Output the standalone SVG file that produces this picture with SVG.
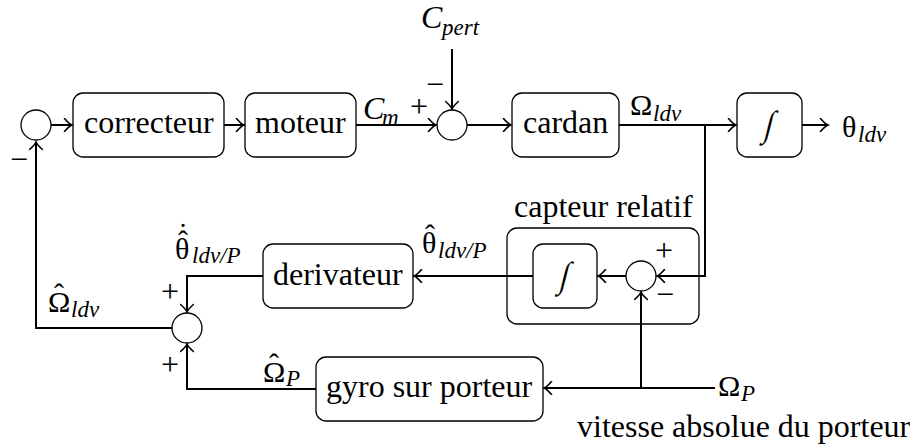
<svg xmlns="http://www.w3.org/2000/svg" width="910" height="447" viewBox="0 0 910 447">
<defs>
<marker id="arr" markerUnits="userSpaceOnUse" markerWidth="14" markerHeight="14" viewBox="-10 -7 12 14" refX="0" refY="0" orient="auto">
<path d="M -7.5 -6.5 Q -3 -1.2 0 0 Q -3 1.2 -7.5 6.5" fill="none" stroke="#000" stroke-width="1.6" stroke-linecap="round"/>
</marker>
</defs>
<style>
.nodebox{fill:#fff;stroke:#000;stroke-width:1.3}
.sumcircle{fill:#fff;stroke:#000;stroke-width:1.3}
.txt{font-family:"Liberation Serif",serif;font-size:32px;fill:#000}
.greek{font-family:"Liberation Serif",serif;font-size:30px;fill:#000}
.ital{font-family:"Liberation Serif",serif;font-style:italic;fill:#000}
.subs{font-family:"Liberation Serif",serif;font-style:italic;font-size:23px;fill:#000}
.integ{font-family:"Liberation Serif",serif;font-size:36px;fill:#000}
.wire{fill:none;stroke:#000;stroke-width:2}
.arrowed{marker-end:url(#arr)}
</style>
<rect width="910" height="447" fill="#fff"/>
<g font-family="Liberation Serif, serif">
<g id="sum1"><circle class="sumcircle" cx="36" cy="125" r="15"/></g>
<g id="correcteur"><rect class="nodebox" x="73" y="93" width="151" height="64" rx="10"/><text class="txt" x="84" y="133">correcteur</text></g>
<g id="moteur"><rect class="nodebox" x="245" y="93" width="111" height="64" rx="10"/><text class="txt" x="255" y="133">moteur</text></g>
<g id="sum2"><circle class="sumcircle" cx="452" cy="125" r="15"/></g>
<g id="cardan"><rect class="nodebox" x="512" y="93" width="107" height="64" rx="10"/><text class="txt" x="523" y="133">cardan</text></g>
<g id="integrateur"><rect class="nodebox" x="737" y="93" width="65" height="64" rx="10"/><g transform="translate(769.5,136) skewX(-14) scale(0.8,1)"><text class="integ" x="-8" y="0">∫</text></g></g>
<g id="capteur">
<rect class="nodebox" x="507" y="228" width="192" height="96" rx="10"/>
<text class="txt" x="514" y="217">capteur relatif</text>
<g id="integ2"><rect class="nodebox" x="533" y="244" width="64" height="64" rx="10"/><g transform="translate(565,287) skewX(-14) scale(0.8,1)"><text class="integ" x="-8" y="0">∫</text></g></g>
<g id="sum3"><circle class="sumcircle" cx="641" cy="276" r="15"/></g>
</g>
<g id="derivateur"><rect class="nodebox" x="263" y="244" width="150" height="64" rx="10"/><text class="txt" x="273" y="285">derivateur</text></g>
<g id="sum4"><circle class="sumcircle" cx="187" cy="328" r="15"/></g>
<g id="gyro"><rect class="nodebox" x="316" y="357" width="227" height="64" rx="10"/><text class="txt" x="326" y="397">gyro sur porteur</text></g>
<g id="labels">
<text class="ital" x="421" y="28" font-size="32">C</text><text class="subs" x="442" y="35">pert</text>
<text class="txt" x="426" y="95">−</text>
<text class="ital" x="363" y="119" font-size="32">C</text><text class="subs" x="382" y="125">m</text>
<text class="txt" x="410" y="117">+</text>
<text class="txt" x="10" y="170">−</text>
<text class="greek" x="630" y="115">Ω</text><text class="subs" x="653" y="121">ldv</text>
<text class="greek" x="842" y="137">θ</text><text class="subs" x="858" y="142">ldv</text>
<text class="txt" x="655" y="261">+</text>
<text class="txt" x="656" y="305">−</text>
<text class="greek" x="422" y="253">θ</text><text class="greek" x="425" y="245">ˆ</text><text class="subs" x="438" y="258">ldv/P</text>
<text class="greek" x="175" y="259">θ</text><text class="greek" x="178" y="251">ˆ</text><text class="greek" x="178" y="244">˙</text><text class="subs" x="192" y="263">ldv/P</text>
<text class="txt" x="161" y="302">+</text>
<text class="txt" x="161" y="375">+</text>
<text class="greek" x="48" y="312">Ω</text><text class="greek" x="54" y="304">ˆ</text><text class="subs" x="71" y="317">ldv</text>
<text class="greek" x="263" y="382">Ω</text><text class="greek" x="269" y="374">ˆ</text><text class="subs" x="286" y="386">P</text>
<text class="greek" x="718" y="396">Ω</text><text class="subs" x="741" y="401">P</text>
<text class="txt" x="577" y="437">vitesse absolue du porteur</text>
</g>
</g>
<g id="connectors">
<line class="wire arrowed" x1="51" y1="125" x2="72" y2="125"/>
<line class="wire arrowed" x1="224" y1="125" x2="244" y2="125"/>
<line class="wire arrowed" x1="356" y1="125" x2="436" y2="125"/>
<line class="wire arrowed" x1="452" y1="49" x2="452" y2="109"/>
<line class="wire arrowed" x1="467" y1="125" x2="511" y2="125"/>
<line class="wire arrowed" x1="619" y1="125" x2="736" y2="125"/>
<line class="wire arrowed" x1="802" y1="125" x2="828" y2="125"/>
<polyline class="wire arrowed" points="705,125 705,276 657,276"/>
<line class="wire arrowed" x1="626" y1="276" x2="598" y2="276"/>
<line class="wire arrowed" x1="533" y1="276" x2="414" y2="276"/>
<polyline class="wire arrowed" points="263,276 187,276 187,312"/>
<line class="wire arrowed" x1="715" y1="388" x2="544" y2="388"/>
<line class="wire arrowed" x1="641" y1="388" x2="641" y2="292"/>
<polyline class="wire arrowed" points="316,389 187,389 187,344"/>
<polyline class="wire arrowed" points="172,328 36,328 36,142"/>
</g>
</svg>
